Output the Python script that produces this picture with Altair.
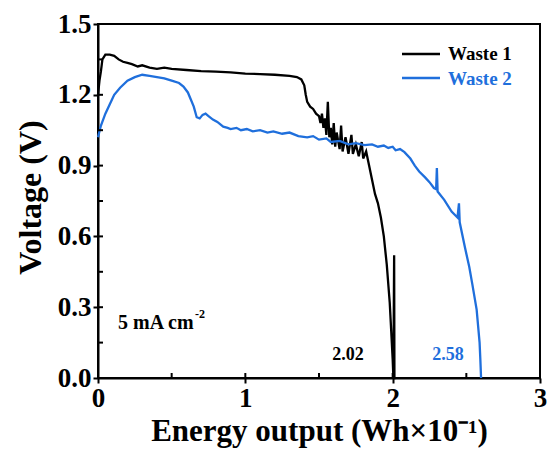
import altair as alt
import pandas as pd

# ---- data ----
w1_x = [0.0, 0.01, 0.02, 0.03, 0.05, 0.08, 0.11, 0.14, 0.17, 0.20, 0.23, 0.27, 0.30, 0.35, 0.40,
        0.45, 0.50, 0.60, 0.70, 0.80, 0.90, 1.00, 1.10, 1.20, 1.30, 1.35, 1.38, 1.40, 1.41, 1.42,
        1.44, 1.46, 1.48, 1.50, 1.51, 1.52, 1.53, 1.54, 1.55, 1.56, 1.57, 1.58, 1.59, 1.60, 1.61,
        1.62, 1.64, 1.65, 1.66, 1.68, 1.70, 1.72, 1.73, 1.75, 1.77, 1.79, 1.80, 1.82, 1.84, 1.86,
        1.88, 1.90, 1.92, 1.94, 1.96, 1.98, 1.99, 2.00, 2.005, 2.01, 2.012, 2.02]
w1_v = [1.20, 1.26, 1.30, 1.35, 1.37, 1.37, 1.365, 1.35, 1.34, 1.335, 1.33, 1.32, 1.325, 1.315, 1.31,
        1.315, 1.31, 1.305, 1.30, 1.298, 1.295, 1.29, 1.288, 1.285, 1.28, 1.275, 1.265, 1.24, 1.20, 1.17,
        1.15, 1.14, 1.12, 1.11, 1.08, 1.12, 1.06, 1.10, 1.03, 1.17, 1.02, 1.06, 0.99, 1.08, 0.98,
        1.04, 0.97, 1.07, 0.96, 1.02, 0.95, 1.03, 0.95, 0.99, 0.94, 1.00, 0.93, 0.96, 0.90, 0.84,
        0.78, 0.74, 0.68, 0.60, 0.48, 0.32, 0.20, 0.08, 0.00, 0.52, 0.00, 0.00]

w2_x = [0.0, 0.02, 0.05, 0.08, 0.11, 0.15, 0.20, 0.25, 0.30, 0.35, 0.40, 0.45, 0.50, 0.55, 0.58,
        0.61, 0.63, 0.65, 0.67, 0.69, 0.71, 0.73, 0.75, 0.78, 0.81, 0.85, 0.88, 0.90, 0.94, 0.97,
        1.01, 1.05, 1.10, 1.15, 1.19, 1.25, 1.30, 1.36, 1.42, 1.46, 1.50, 1.55, 1.58, 1.64, 1.70,
        1.75, 1.81, 1.86, 1.90, 1.94, 1.97, 2.00, 2.02, 2.05, 2.08, 2.12, 2.15, 2.18, 2.22,
        2.25, 2.28, 2.295, 2.30, 2.305, 2.35, 2.40, 2.44, 2.45, 2.455, 2.49, 2.52, 2.54, 2.57, 2.58,
        2.59, 2.595, 2.60]
w2_v = [1.02, 1.07, 1.12, 1.16, 1.20, 1.23, 1.26, 1.275, 1.285, 1.28, 1.275, 1.27, 1.26, 1.25, 1.235,
        1.21, 1.18, 1.15, 1.105, 1.10, 1.115, 1.12, 1.11, 1.095, 1.085, 1.065, 1.06, 1.055, 1.06, 1.05,
        1.055, 1.045, 1.05, 1.04, 1.045, 1.035, 1.04, 1.025, 1.02, 1.025, 1.01, 1.015, 1.00, 1.005, 0.99,
        0.995, 0.987, 0.99, 0.98, 0.985, 0.975, 0.98, 0.965, 0.97, 0.957, 0.93, 0.90, 0.875, 0.85,
        0.83, 0.805, 0.80, 0.89, 0.79, 0.755, 0.705, 0.68, 0.74, 0.66, 0.555, 0.47, 0.40, 0.29, 0.22,
        0.15, 0.08, 0.00]

series_names = ["Waste 1", "Waste 2"]
series_colors = ["#000000", "#1f6fdc"]
y_ticks = [0.0, 0.3, 0.6, 0.9, 1.2, 1.5]
y_minor = [0.15, 0.3, 0.45, 0.6, 0.75, 0.9, 1.05, 1.2, 1.35]
x_ticks = [0, 1, 2, 3]
x_minor = [0.5, 1, 1.5, 2, 2.5]
end_labels = ["2.02", "2.58"]
current_label = "5 mA cm"
current_sup = "-2"

rows = []
for i, (a, b) in enumerate(zip(w1_x, w1_v)):
    rows.append({"series": "Waste 1", "x": a, "v": b, "idx": i})
for i, (a, b) in enumerate(zip(w2_x, w2_v)):
    rows.append({"series": "Waste 2", "x": a, "v": b, "idx": i})
df = pd.DataFrame(rows)

FONT = "Liberation Serif"
W, H = 442, 354

xscale = alt.Scale(domain=[0, 3], nice=False)
yscale = alt.Scale(domain=[0, 1.5], nice=False)
x_axis = alt.Axis(values=x_ticks, format="d", title="Energy output (Wh×10⁻¹)",
                  titleX=W / 2, titleY=62, titleBaseline="alphabetic", titleAlign="center")
y_axis = alt.Axis(values=y_ticks, format=".1f", title="Voltage (V)",
                  titleX=-68, titleY=173, titleAngle=-90, titleBaseline="middle", titleAlign="center")
color = alt.Color("series:N", scale=alt.Scale(domain=series_names, range=series_colors), legend=None)

lines = alt.Chart(df).mark_line(strokeWidth=2.3).encode(
    x=alt.X("x:Q", scale=xscale, axis=x_axis),
    y=alt.Y("v:Q", scale=yscale, axis=y_axis),
    color=color,
    detail="series:N",
    order="idx:Q",
)

ymin = alt.Chart(pd.DataFrame({"v": y_minor})).mark_rule(color="black", strokeWidth=2).encode(
    y=alt.Y("v:Q", scale=yscale, axis=y_axis), x=alt.value(0), x2=alt.value(5))
xmin = alt.Chart(pd.DataFrame({"x": x_minor})).mark_rule(color="black", strokeWidth=2).encode(
    x=alt.X("x:Q", scale=xscale, axis=x_axis), y=alt.value(H), y2=alt.value(H - 5))

layers = [lines, ymin, xmin]

leg_line_y = [30, 54]
leg_text_y = [36, 61]
for name, col, ly, ty in zip(series_names, series_colors, leg_line_y, leg_text_y):
    d = pd.DataFrame({"series": [name]})
    layers.append(alt.Chart(d).mark_rule(strokeWidth=2.3, color=col).encode(
        x=alt.value(304), x2=alt.value(342), y=alt.value(ly)))
    layers.append(alt.Chart(d).mark_text(font=FONT, fontWeight="bold", fontSize=19, color=col,
                                         align="left", baseline="alphabetic").encode(
        x=alt.value(350), y=alt.value(ty), text="series:N"))

ann_x = [250, 350]
for lab, col, ax in zip(end_labels, series_colors, ann_x):
    layers.append(alt.Chart(pd.DataFrame({"t": [lab]})).mark_text(
        font=FONT, fontWeight="bold", fontSize=18, color=col, align="center", baseline="alphabetic"
    ).encode(x=alt.value(ax), y=alt.value(336), text="t:N"))

layers.append(alt.Chart(pd.DataFrame({"t": [current_label]})).mark_text(
    font=FONT, fontWeight="bold", fontSize=20, align="left", baseline="alphabetic", color="black"
).encode(x=alt.value(20), y=alt.value(305), text="t:N"))
layers.append(alt.Chart(pd.DataFrame({"t": [current_sup]})).mark_text(
    font=FONT, fontWeight="bold", fontSize=12, align="left", baseline="alphabetic", color="black"
).encode(x=alt.value(97), y=alt.value(294), text="t:N"))

chart = alt.layer(*layers).properties(
    width=W, height=H,
    autosize=alt.AutoSizeParams(type="none"),
    padding={"left": 98, "top": 24, "right": 9, "bottom": 81},
).configure_view(
    stroke="black", strokeWidth=2
).configure_axis(
    labelFont=FONT, labelFontWeight="bold", labelFontSize=27, labelColor="black",
    titleFont=FONT, titleFontWeight="bold", titleColor="black",
    domainColor="black", domainWidth=2, tickColor="black", tickWidth=2, tickSize=5,
    labelPadding=2, labelFlush=False, labelOverlap=False, grid=False,
).configure_axisX(titleFontSize=31).configure_axisY(titleFontSize=32)

chart.save("out.html", embed_options={"renderer": "svg", "actions": False})
